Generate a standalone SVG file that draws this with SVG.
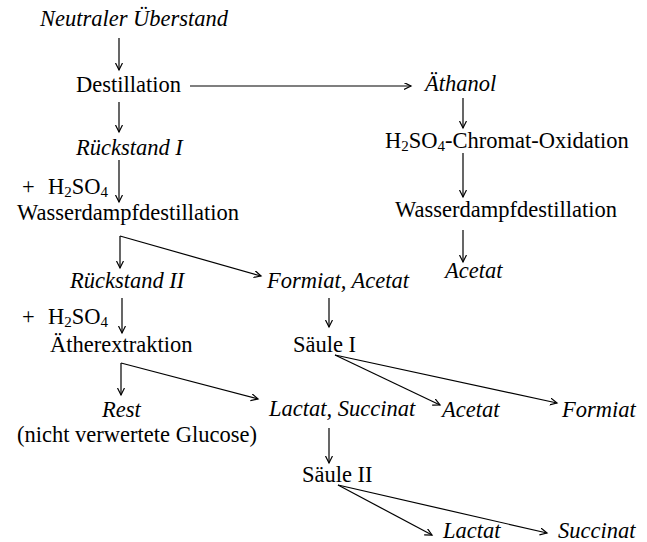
<svg xmlns="http://www.w3.org/2000/svg" width="647" height="542" viewBox="0 0 647 542">
<defs>
<marker id="ah" markerUnits="userSpaceOnUse" markerWidth="10" markerHeight="10" refX="7" refY="3.5" orient="auto">
<path d="M0,0 L7,3.5 L0,7" fill="none" stroke="#000" stroke-width="1.2"/>
</marker>
<style>
text{font-family:'Liberation Serif','Times New Roman','DejaVu Serif',serif;font-size:22.5px;fill:#000}
.i{font-style:italic}
.s{font-size:15px}
.c{fill:none;stroke:#000;stroke-width:1.2;marker-end:url(#ah)}
</style>
</defs>
<rect width="647" height="542" fill="#fff"/>
<g id="connectors">
<path class="c" d="M119,38 L119,70"/>
<path class="c" d="M190,86 L411,86"/>
<path class="c" d="M119,102 L119,132"/>
<path class="c" d="M119,160 L119,202"/>
<path class="c" d="M120,236 L120,268"/>
<path class="c" d="M120,236 L261,276"/>
<path class="c" d="M122,298 L122,333"/>
<path class="c" d="M121,363 L121,395"/>
<path class="c" d="M121,363 L258,399"/>
<path class="c" d="M463,98 L463,128"/>
<path class="c" d="M463,153 L463,197"/>
<path class="c" d="M463,230 L463,262"/>
<path class="c" d="M329,298 L329,327"/>
<path class="c" d="M335,355 L440,405"/>
<path class="c" d="M335,355 L557,403"/>
<path class="c" d="M329,428 L329,463"/>
<path class="c" d="M338,485 L432,535"/>
<path class="c" d="M338,485 L547,533"/>
</g>
<g font-family="'Liberation Serif', 'Times New Roman', serif">
<g id="n-neutral"><text class="i" x="40" y="26">Neutraler Überstand</text></g>
<g id="n-destillation"><text x="76" y="92">Destillation</text></g>
<g id="n-aethanol"><text class="i" x="425" y="91">Äthanol</text></g>
<g id="n-chromat"><text x="385" y="148">H<tspan class="s" dy="3">2</tspan><tspan dy="-3">SO</tspan><tspan class="s" dy="3">4</tspan><tspan dy="-3">-Chromat-Oxidation</tspan></text></g>
<g id="n-wdd2"><text x="395" y="217">Wasserdampfdestillation</text></g>
<g id="n-acetat1"><text class="i" x="445" y="278">Acetat</text></g>
<g id="n-rueck1"><text class="i" x="76" y="155">Rückstand I</text></g>
<g id="n-h2so4-1"><text x="22" y="194">+<tspan x="48">H</tspan><tspan class="s" dy="3">2</tspan><tspan dy="-3">SO</tspan><tspan class="s" dy="3">4</tspan></text></g>
<g id="n-wdd1"><text x="17" y="220">Wasserdampfdestillation</text></g>
<g id="n-rueck2"><text class="i" x="70" y="288">Rückstand II</text></g>
<g id="n-formacet"><text class="i" x="267" y="288">Formiat, Acetat</text></g>
<g id="n-h2so4-2"><text x="22" y="324">+<tspan x="48">H</tspan><tspan class="s" dy="3">2</tspan><tspan dy="-3">SO</tspan><tspan class="s" dy="3">4</tspan></text></g>
<g id="n-aether"><text x="50" y="352">Ätherextraktion</text></g>
<g id="n-saeule1"><text x="293" y="352">Säule I</text></g>
<g id="n-rest"><text class="i" x="102" y="417">Rest</text><text x="17" y="442">(nicht verwertete Glucose)</text></g>
<g id="n-lacsuc"><text class="i" x="269" y="416">Lactat, Succinat</text></g>
<g id="n-acetat2"><text class="i" x="442" y="417">Acetat</text></g>
<g id="n-formiat"><text class="i" x="562" y="417">Formiat</text></g>
<g id="n-saeule2"><text x="302" y="482">Säule II</text></g>
<g id="n-lactat"><text class="i" x="443" y="538">Lactat</text></g>
<g id="n-succinat"><text class="i" x="558" y="538">Succinat</text></g>
</g>
</svg>
